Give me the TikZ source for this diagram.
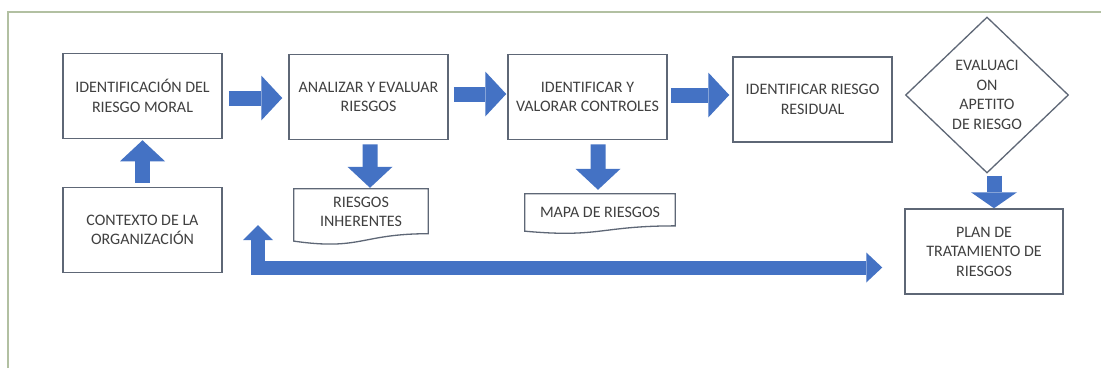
\documentclass[tikz,border=0pt]{standalone}
\usepackage{fontspec}
\setmainfont{Carlito}
\usetikzlibrary{arrows.meta,shapes.geometric,calc}

\definecolor{arrowblue}{HTML}{4472C4}
\definecolor{boxline}{HTML}{5E6776}
\definecolor{textgray}{HTML}{404040}
\definecolor{framegreen}{RGB}{178,192,162}

% bottom edge of a flowchart "document" shape hanging below node #1;
% #2 is the full height of the shape measured from the node's top edge
\newcommand\docoutline[2]{%
  \draw[docline] (#1.north west) -- (#1.north east)
    -- ($(#1.north east)+(0,0.802*#2)$)
    .. controls ($(#1.north)+(0,0.802*#2)$) and ($(#1.north)+(0,1.107*#2)$)
    .. ($(#1.north west)+(0,0.934*#2)$) -- cycle;}

\tikzset{
  txt/.style={text=textgray, font=\fontsize{16bp}{19.5bp}\selectfont, align=center},
  stepbox/.style={txt, draw=boxline, line width=1.5bp, inner sep=0pt,
    minimum width=159bp, minimum height=85bp},
  decision/.style={txt, diamond, draw=boxline, line width=1.3bp, inner sep=0pt,
    minimum width=163bp, minimum height=156bp},
  docbox/.style={txt, inner sep=0pt},
  docline/.style={draw=boxline, line width=1.3bp, fill=white},
  blk/.style={draw=arrowblue, line width=15bp,
    -{Triangle[width=45bp,length=21bp,line width=0pt,fill=arrowblue]}},
  blkshort/.style={draw=arrowblue, line width=15bp,
    -{Triangle[width=46bp,length=16bp,line width=0pt,fill=arrowblue]}},
  blkloop/.style={draw=arrowblue, line width=14bp, line join=miter,
    {Triangle[width=30bp,length=15bp,line width=0pt,fill=arrowblue]}-{Triangle[width=30bp,length=16bp,line width=0pt,fill=arrowblue]}},
}

\begin{document}
\begin{tikzpicture}[x=1bp,y=-1bp]
  \useasboundingbox[fill=white] (0,0) rectangle (1101,368);

  % page frame
  \draw[framegreen, line width=1.5bp] (8,368) -- (8,12) -- (1101,12);

  % process steps
  \node[stepbox] (ident)   at (142.5,96)  {IDENTIFICACIÓN DEL\\RIESGO MORAL};
  \node[stepbox] (analiza) at (368.5,97)  {ANALIZAR Y EVALUAR\\RIESGOS};
  \node[stepbox] (control) at (587.5,97)  {IDENTIFICAR Y\\VALORAR CONTROLES};
  \node[stepbox] (resid)   at (812.5,99.5){IDENTIFICAR RIESGO\\RESIDUAL};
  \node[decision] (apetito) at (987,95)   {EVALUACI\\ON\\APETITO\\DE RIESGO};
  \node[stepbox] (contexto) at (142.5,230) {CONTEXTO DE LA\\ORGANIZACIÓN};
  \node[stepbox, minimum width=158bp] (plan) at (984,251.5) {PLAN DE\\TRATAMIENTO DE\\RIESGOS};

  % document outputs
  \node[docbox, minimum width=134bp, minimum height=46bp] (inher) at (361,212) {};
  \docoutline{inher}{56}
  \node[txt] at (inher.center) {RIESGOS\\INHERENTES};
  \node[docbox, minimum width=150bp, minimum height=36bp] (mapa) at (600,212) {};
  \docoutline{mapa}{40}
  \node[txt] at (mapa.center) {MAPA DE RIESGOS};

  % main flow
  \draw[blk] ($(ident.east)+(6,2)$) -- ($(analiza.west)+(-6,1)$);
  \draw[blk] ($(analiza.east)+(5,-3)$) -- ($(control.west)+(-1,-3)$);
  \draw[blk] ($(control.east)+(3,-2)$) -- ($(resid.west)+(-3,-4.5)$);
  \draw[blk] ($(contexto.north)+(0,-4)$) -- ($(ident.south)+(0,1)$);
  \draw[blk] ($(analiza.south)+(1.5,4)$) -- ($(inher.north)+(9,-1)$);
  \draw[blk] ($(control.south)+(10.5,4)$) -- ($(mapa.north)+(-2,-4)$);
  \draw[blkshort] ($(apetito.south)+(7,2)$) -- ($(plan.north)+(10,0)$);

  % return loop
  \coordinate (loopup) at (258,225);
  \draw[blkloop] (loopup) |- ($(plan.west)+(-22,16)$);
\end{tikzpicture}
\end{document}
